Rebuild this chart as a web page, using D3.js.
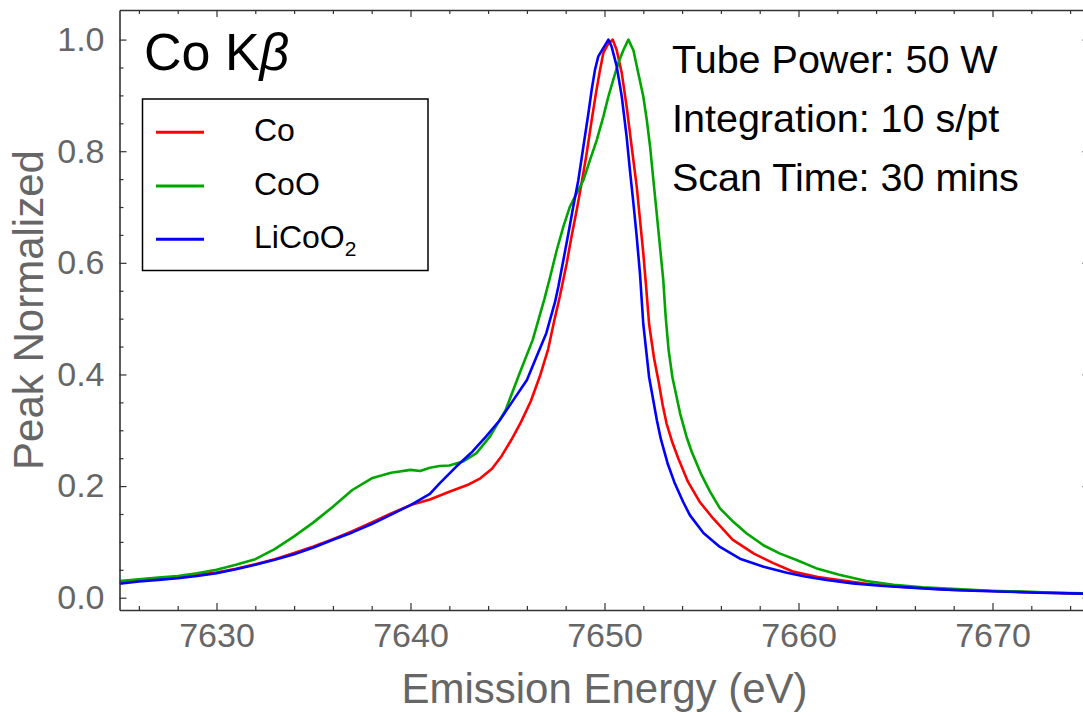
<!DOCTYPE html>
<html>
<head>
<meta charset="utf-8">
<script src="https://cdn.jsdelivr.net/npm/d3@7"></script>
<style>
  html, body { margin: 0; padding: 0; background: #fff; }
  svg { display: block; }
  text { font-family: "Liberation Sans", Arial, sans-serif; }
</style>
</head>
<body>
<svg id="chart" width="1083" height="714"></svg>
<script>
// ---------------- data ----------------
const seriesNames = ["Co", "CoO", "LiCoO2"];

const coEnergy = [7625,7626,7627,7628,7629,7630,7631,7632,7633,7634,7635,7636,7637,7638,7639,7640,7641,7642,7643,7643.6,7644.2,7644.7,7645.2,7645.7,7646.2,7646.7,7647.1,7647.4,7647.7,7648.05,7648.3,7648.57,7648.82,7649.08,7649.34,7649.56,7649.77,7649.94,7650.15,7650.42,7650.63,7650.89,7651.14,7651.4,7651.66,7651.83,7652.0,7652.15,7652.3,7652.55,7652.8,7653.0,7653.2,7653.5,7653.8,7654.3,7654.9,7655.6,7656.6,7657.7,7658.7,7659.7,7661,7662,7663.5,7665,7666.5,7668,7670,7671.5,7673.3,7675];
const coValues = [0.027,0.031,0.034,0.038,0.041,0.045,0.052,0.060,0.069,0.080,0.092,0.105,0.119,0.135,0.151,0.166,0.176,0.190,0.203,0.214,0.231,0.254,0.283,0.315,0.352,0.400,0.446,0.495,0.540,0.599,0.647,0.695,0.743,0.796,0.856,0.904,0.946,0.976,0.990,1.000,0.981,0.940,0.880,0.808,0.737,0.677,0.617,0.555,0.490,0.430,0.385,0.345,0.312,0.278,0.250,0.208,0.172,0.142,0.104,0.079,0.062,0.047,0.037,0.032,0.025,0.020,0.017,0.014,0.012,0.010,0.0085,0.007];

const cooEnergy = [7625,7626,7627,7628,7629,7630,7631,7632,7633,7634,7635,7636,7637,7638,7639,7640,7640.5,7641,7641.5,7642,7642.7,7643.4,7644.1,7644.9,7645.6,7646.3,7646.9,7647.2,7647.54,7647.88,7648.22,7648.57,7648.91,7649.25,7649.6,7649.94,7650.2,7650.45,7650.71,7650.97,7651.23,7651.49,7651.74,7652.0,7652.18,7652.35,7652.52,7652.69,7652.86,7653.03,7653.15,7653.3,7653.5,7653.9,7654.24,7654.5,7655.0,7655.44,7655.95,7656.64,7657.33,7658.19,7659.05,7659.9,7660.9,7662.1,7663.5,7664.9,7666.4,7668.15,7669.9,7671.6,7673.3,7675];
const cooValues = [0.030,0.033,0.036,0.039,0.044,0.050,0.059,0.069,0.087,0.110,0.135,0.163,0.193,0.214,0.224,0.229,0.227,0.233,0.236,0.237,0.244,0.259,0.289,0.336,0.400,0.462,0.535,0.575,0.623,0.665,0.701,0.725,0.748,0.784,0.820,0.862,0.898,0.928,0.958,0.981,1.000,0.981,0.940,0.898,0.856,0.808,0.748,0.689,0.629,0.569,0.505,0.445,0.395,0.330,0.287,0.261,0.220,0.190,0.160,0.136,0.115,0.094,0.079,0.0675,0.053,0.041,0.030,0.023,0.0185,0.0155,0.0125,0.011,0.009,0.0078];

const licooEnergy = [7625,7626,7627,7628,7629,7630,7631,7632,7633,7634,7635,7636,7637,7638,7639,7640,7641,7641.5,7642.36,7643.2,7643.9,7644.6,7645.3,7646.0,7646.5,7647.0,7647.45,7647.62,7647.88,7648.14,7648.39,7648.65,7648.91,7649.17,7649.34,7649.51,7649.68,7650.2,7650.37,7650.63,7650.89,7651.14,7651.31,7651.49,7651.66,7651.83,7652.0,7652.3,7652.7,7652.9,7653.25,7653.6,7654.05,7654.4,7655.1,7655.95,7656.98,7658.2,7659.4,7660.4,7661.45,7662.8,7664.2,7665.6,7667.3,7669.0,7670.7,7672.4,7675];
const licooValues = [0.025,0.029,0.032,0.035,0.039,0.044,0.051,0.059,0.068,0.078,0.090,0.104,0.117,0.132,0.149,0.166,0.186,0.205,0.235,0.262,0.289,0.318,0.354,0.390,0.432,0.474,0.530,0.557,0.605,0.653,0.701,0.748,0.808,0.868,0.910,0.946,0.970,1.000,0.987,0.952,0.898,0.826,0.766,0.707,0.647,0.580,0.490,0.395,0.318,0.285,0.241,0.207,0.172,0.148,0.116,0.091,0.070,0.0556,0.0448,0.0376,0.0317,0.0257,0.0215,0.0185,0.0149,0.0125,0.0108,0.009,0.007];

const xDomain = [7625, 7675];
const yDomain = [-0.022, 1.053];
const xMajorTicks = [7630, 7640, 7650, 7660, 7670];
const xMinorTicks = [7626, 7628, 7632, 7634, 7636, 7638, 7642, 7644, 7646, 7648, 7652, 7654, 7656, 7658, 7662, 7664, 7666, 7668, 7672, 7674];
const yMajorTicks = [0.0, 0.2, 0.4, 0.6, 0.8, 1.0];
const yMinorTicks = [0.05, 0.1, 0.15, 0.25, 0.3, 0.35, 0.45, 0.5, 0.55, 0.65, 0.7, 0.75, 0.85, 0.9, 0.95];
const annotationLines = ["Tube Power: 50 W", "Integration: 10 s/pt", "Scan Time: 30 mins"];

// ---------------- layout / style ----------------
const colors = ["#ff0000", "#00a600", "#0000ff"];
const frame = { left: 119.5, right: 1089.5, top: 10, bottom: 610 };
const svg = d3.select("#chart");

const x = d3.scaleLinear().domain(xDomain).range([frame.left, frame.right]);
const y = d3.scaleLinear().domain(yDomain).range([frame.bottom, frame.top]);

const series = [
  { name: seriesNames[0], energy: coEnergy, values: coValues, color: colors[0] },
  { name: seriesNames[1], energy: cooEnergy, values: cooValues, color: colors[1] },
  { name: seriesNames[2], energy: licooEnergy, values: licooValues, color: colors[2] }
];

svg.append("defs").append("clipPath").attr("id", "plotclip")
  .append("rect").attr("x", frame.left).attr("y", frame.top)
  .attr("width", frame.right - frame.left).attr("height", frame.bottom - frame.top);

// curves
const line = d3.line().x(d => x(d[0])).y(d => y(d[1]));
const curves = svg.append("g").attr("clip-path", "url(#plotclip)");
series.forEach(s => {
  const pts = s.energy.map((e, i) => [e, s.values[i]]);
  curves.append("path").datum(pts)
    .attr("d", line)
    .attr("fill", "none")
    .attr("stroke", s.color)
    .attr("stroke-width", 2.6)
    .attr("stroke-linejoin", "round");
});

// axes (frame with inward ticks)
const frameColor = "#333";
const labelColor = "#666";
const tickFont = 34;

function styleAxis(g) {
  g.select(".domain").attr("stroke", frameColor).attr("stroke-width", 1.6);
  g.selectAll(".tick line").attr("stroke", frameColor).attr("stroke-width", 1.2);
  g.selectAll(".tick text").attr("fill", labelColor).attr("font-size", tickFont)
    .attr("font-family", "'Liberation Sans', Arial, sans-serif");
}

// bottom
const gBottom = svg.append("g").attr("transform", `translate(0,${frame.bottom})`)
  .call(d3.axisBottom(x).tickValues(xMajorTicks).tickSize(-7).tickSizeOuter(0).tickPadding(13).tickFormat(d3.format("d")));
styleAxis(gBottom);
gBottom.selectAll(".tick text").attr("dy", "0.71em");
const gBottomMinor = svg.append("g").attr("transform", `translate(0,${frame.bottom})`)
  .call(d3.axisBottom(x).tickValues(xMinorTicks).tickSize(-4).tickSizeOuter(0).tickFormat(""));
styleAxis(gBottomMinor);
gBottomMinor.select(".domain").remove();

// top
const gTop = svg.append("g").attr("transform", `translate(0,${frame.top})`)
  .call(d3.axisTop(x).tickValues(xMajorTicks).tickSize(-7).tickSizeOuter(0).tickFormat(""));
styleAxis(gTop);
const gTopMinor = svg.append("g").attr("transform", `translate(0,${frame.top})`)
  .call(d3.axisTop(x).tickValues(xMinorTicks).tickSize(-4).tickSizeOuter(0).tickFormat(""));
styleAxis(gTopMinor);
gTopMinor.select(".domain").remove();

// left
const gLeft = svg.append("g").attr("transform", `translate(${frame.left},0)`)
  .call(d3.axisLeft(y).tickValues(yMajorTicks).tickSize(-7).tickSizeOuter(0).tickPadding(15).tickFormat(d3.format(".1f")));
styleAxis(gLeft);
const gLeftMinor = svg.append("g").attr("transform", `translate(${frame.left},0)`)
  .call(d3.axisLeft(y).tickValues(yMinorTicks).tickSize(-4).tickSizeOuter(0).tickFormat(""));
styleAxis(gLeftMinor);
gLeftMinor.select(".domain").remove();

// right
const gRight = svg.append("g").attr("transform", `translate(${frame.right},0)`)
  .call(d3.axisRight(y).tickValues(yMajorTicks).tickSize(-7).tickSizeOuter(0).tickFormat(""));
styleAxis(gRight);
const gRightMinor = svg.append("g").attr("transform", `translate(${frame.right},0)`)
  .call(d3.axisRight(y).tickValues(yMinorTicks).tickSize(-4).tickSizeOuter(0).tickFormat(""));
styleAxis(gRightMinor);
gRightMinor.select(".domain").remove();

// axis titles
svg.append("text")
  .attr("x", (frame.left + frame.right) / 2).attr("y", 703)
  .attr("text-anchor", "middle").attr("fill", labelColor).attr("font-size", 42)
  .text("Emission Energy (eV)");
svg.append("text")
  .attr("transform", `translate(43,${(frame.top + frame.bottom) / 2}) rotate(-90)`)
  .attr("text-anchor", "middle").attr("fill", labelColor).attr("font-size", 42)
  .text("Peak Normalized");

// title
const title = svg.append("text").attr("x", 144).attr("y", 70)
  .attr("font-size", 52).attr("fill", "#000");
title.append("tspan").text("Co K");
title.append("tspan").attr("font-style", "italic").text("β");

// annotation
const ann = svg.append("g");
annotationLines.forEach((t, i) => {
  ann.append("text").attr("x", 672).attr("y", 73 + i * 59.2)
    .attr("font-size", 39.5).attr("fill", "#000").text(t);
});

// legend
const legend = svg.append("g");
legend.append("rect").attr("x", 142.5).attr("y", 99).attr("width", 285.5).attr("height", 171.5)
  .attr("fill", "#fff").attr("stroke", "#000").attr("stroke-width", 1.5);
const legendRows = [132.3, 186, 239.3];
series.forEach((s, i) => {
  const ly = legendRows[i];
  legend.append("line").attr("x1", 156).attr("x2", 204).attr("y1", ly).attr("y2", ly)
    .attr("stroke", s.color).attr("stroke-width", 3);
  const t = legend.append("text").attr("x", 254).attr("y", ly + 9)
    .attr("font-size", 32).attr("fill", "#000");
  if (s.name === "LiCoO2") {
    t.append("tspan").text("LiCoO");
    t.append("tspan").attr("font-size", 21).attr("dy", 8).text("2");
  } else {
    t.text(s.name);
  }
});
</script>
</body>
</html>
